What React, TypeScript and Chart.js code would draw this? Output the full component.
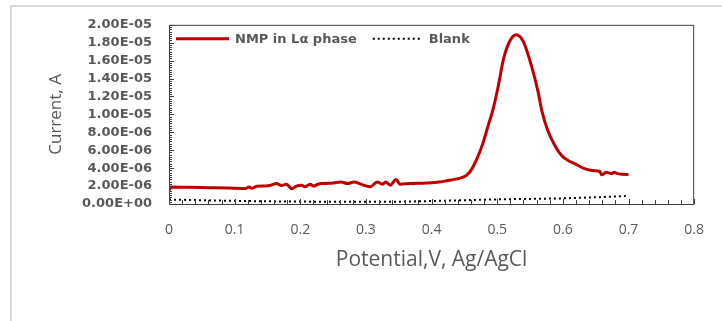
import React, { useEffect, useRef } from 'react';
import { Chart, registerables } from 'chart.js';

Chart.register(...registerables);

// Potential (V) and current (µA)
const nmpPotential = [
  0.0, 0.003, 0.03, 0.06, 0.09, 0.117, 0.122, 0.126, 0.134, 0.147, 0.155, 0.164, 0.171, 0.179,
  0.187, 0.194, 0.202, 0.207, 0.215, 0.22, 0.227, 0.237, 0.25, 0.262, 0.272, 0.282, 0.292, 0.307,
  0.317, 0.325, 0.33, 0.337, 0.346, 0.352, 0.367, 0.392, 0.412, 0.427, 0.435, 0.442, 0.453, 0.46,
  0.468, 0.478, 0.487, 0.493, 0.501, 0.51, 0.52, 0.529, 0.54, 0.553, 0.562, 0.568, 0.577, 0.588,
  0.598, 0.608, 0.618, 0.633, 0.647, 0.656, 0.659, 0.666, 0.674, 0.678, 0.683, 0.69, 0.7,
];
const nmpCurrent = [
  1.5, 1.9, 1.86, 1.82, 1.78, 1.73, 1.91, 1.75, 1.99, 2.02, 2.1, 2.29, 2.07, 2.21,
  1.7, 1.99, 2.1, 1.93, 2.21, 2.0, 2.21, 2.29, 2.35, 2.46, 2.29, 2.46, 2.22, 1.93,
  2.46, 2.2, 2.46, 2.1, 2.73, 2.2, 2.29, 2.35, 2.46, 2.65, 2.75, 2.85, 3.2, 3.76,
  4.86, 6.74, 8.95, 10.4, 12.95, 16.3, 18.3, 18.9, 18.1, 15.2, 12.6, 10.4, 8.2, 6.5,
  5.4, 4.86, 4.5, 3.94, 3.72, 3.65, 3.26, 3.54, 3.39, 3.54, 3.39, 3.32, 3.3,
];
const blankPotential = [0.0, 0.05, 0.1, 0.15, 0.2, 0.25, 0.3, 0.35, 0.4, 0.45, 0.5, 0.55, 0.6, 0.65, 0.7];
const blankCurrent = [0.5, 0.42, 0.35, 0.3, 0.27, 0.25, 0.25, 0.26, 0.33, 0.42, 0.52, 0.57, 0.63, 0.75, 0.9];

const seriesLabels = ['NMP in Lα phase', 'Blank'];
const xTickValues = [0, 0.1, 0.2, 0.3, 0.4, 0.5, 0.6, 0.7, 0.8];
const yTickValues = [0, 2e-6, 4e-6, 6e-6, 8e-6, 1e-5, 1.2e-5, 1.4e-5, 1.6e-5, 1.8e-5, 2e-5];
const xTitle = 'Potential,V, Ag/AgCl';
const yTitle = 'Current, A';

const GRAY = '#595959';
const RED = '#c00000';

function fmtE(v: number): string {
  const s = Number(v).toExponential(2);
  const [m, e] = s.split('e');
  const sign = e[0] === '-' ? '-' : '+';
  const d = e.replace(/[+-]/, '').padStart(2, '0');
  return `${m}E${sign}${d}`;
}

const decorPlugin = {
  id: 'decor',
  beforeDraw(chart: any) {
    const ctx = chart.ctx;
    ctx.save();
    ctx.strokeStyle = '#d9d9d9';
    ctx.lineWidth = 2;
    ctx.beginPath();
    ctx.moveTo(11, 330);
    ctx.lineTo(11, 6);
    ctx.lineTo(730, 6);
    ctx.stroke();
    ctx.restore();
  },
  afterDatasetsDraw(chart: any) {
    const { ctx, chartArea: a, scales } = chart;
    ctx.save();
    ctx.strokeStyle = '#404040';
    ctx.lineWidth = 1;
    ctx.strokeRect(a.left + 0.5, a.top + 0.5, a.right - a.left - 1, a.bottom - a.top);
    // y ticks (major + minor) pointing inward
    const ys = scales.y;
    ctx.beginPath();
    const yMax = yTickValues[yTickValues.length - 1];
    const yStep = yTickValues[1] - yTickValues[0];
    const yMinor = yStep / 8;
    for (let i = 0; i * yMinor <= yMax + 1e-12; i++) {
      const p = Math.round(ys.getPixelForValue(i * yMinor)) + 0.5;
      const len = i % 8 === 0 ? 5 : 3;
      ctx.moveTo(a.left, p);
      ctx.lineTo(a.left + len, p);
    }
    // x ticks pointing upward
    const xs = scales.x;
    const xMax = xTickValues[xTickValues.length - 1];
    const xStep = xTickValues[1] - xTickValues[0];
    const xMinor = xStep / 5;
    for (let i = 0; i * xMinor <= xMax + 1e-9; i++) {
      const p = Math.round(xs.getPixelForValue(i * xMinor)) + 0.5;
      const len = i % 5 === 0 ? 5 : 4;
      ctx.moveTo(p, a.bottom);
      ctx.lineTo(p, a.bottom - len);
    }
    ctx.stroke();

    // legend inside plot area
    const ly = a.top + 14;
    let x = a.left + 7;
    ctx.font = 'bold 13px "DejaVu Sans"';
    ctx.textBaseline = 'middle';
    ctx.fillStyle = GRAY;
    chart.data.datasets.forEach((ds: any, i: number) => {
      const len = i === 0 ? 53 : 50;
      ctx.save();
      ctx.strokeStyle = ds.borderColor;
      ctx.lineWidth = ds.borderWidth;
      ctx.setLineDash(ds.borderDash || []);
      ctx.beginPath();
      ctx.moveTo(x, ly);
      ctx.lineTo(x + len, ly);
      ctx.stroke();
      ctx.restore();
      x += len + 6;
      ctx.fillText(ds.label, x, ly + 1);
      x += ctx.measureText(ds.label).width + 16;
    });
    ctx.restore();
  },
};

export default function App() {
  const ref = useRef<HTMLCanvasElement | null>(null);

  useEffect(() => {
    if (!ref.current) return;
    const nmpData = nmpPotential.map((p, i) => ({ x: p, y: nmpCurrent[i] * 1e-6 }));
    const blankData = blankPotential.map((p, i) => ({ x: p, y: blankCurrent[i] * 1e-6 }));
    const chart = new Chart(ref.current, {
      type: 'line',
      data: {
        datasets: [
          {
            label: seriesLabels[0],
            data: nmpData,
            borderColor: RED,
            backgroundColor: RED,
            borderWidth: 3,
            pointRadius: 0,
            cubicInterpolationMode: 'monotone',
            fill: false,
          },
          {
            label: seriesLabels[1],
            data: blankData,
            borderColor: '#000000',
            backgroundColor: '#000000',
            borderWidth: 2,
            borderDash: [2, 3],
            pointRadius: 0,
            fill: false,
          },
        ],
      },
      options: {
        responsive: false,
        animation: false,
        devicePixelRatio: 1,
        layout: { padding: { left: 0, top: 23, right: 21, bottom: 0 } },
        plugins: { legend: { display: false }, tooltip: { enabled: false } },
        scales: {
          x: {
            type: 'linear',
            min: xTickValues[0],
            max: xTickValues[xTickValues.length - 1],
            afterBuildTicks: (s: any) => {
              s.ticks = xTickValues.map((v) => ({ value: v }));
            },
            afterFit: (s: any) => {
              s.height = 117;
            },
            grid: { display: false, drawTicks: false },
            border: { display: false },
            ticks: {
              padding: 18,
              color: GRAY,
              autoSkip: false,
              font: { family: '"Open Sans"', size: 14 },
              callback: (v: any) => String(v),
              maxRotation: 0,
            },
            title: {
              display: true,
              text: xTitle,
              color: GRAY,
              font: { family: '"Open Sans"', size: 21 },
              padding: { top: 0, bottom: 48 },
            },
          },
          y: {
            type: 'linear',
            min: yTickValues[0],
            max: yTickValues[yTickValues.length - 1],
            afterBuildTicks: (s: any) => {
              s.ticks = yTickValues.map((v) => ({ value: v }));
            },
            afterFit: (s: any) => {
              s.width = 169;
            },
            grid: { display: false, drawTicks: false },
            border: { display: false },
            ticks: {
              padding: 17,
              color: GRAY,
              autoSkip: false,
              font: { family: '"DejaVu Sans"', size: 13, weight: 'bold' },
              callback: (v: any) => fmtE(v),
            },
            title: {
              display: true,
              text: yTitle,
              color: GRAY,
              font: { family: '"Open Sans"', size: 17 },
              padding: { top: 46, bottom: 0 },
            },
          },
        },
      },
      plugins: [decorPlugin],
    } as any);
    return () => chart.destroy();
  }, []);

  return (
    <div style={{ position: 'absolute', left: 0, top: 0, width: 722, height: 321, background: '#fff' }}>
      <canvas ref={ref} width={722} height={321} style={{ display: 'block' }} />
    </div>
  );
}
